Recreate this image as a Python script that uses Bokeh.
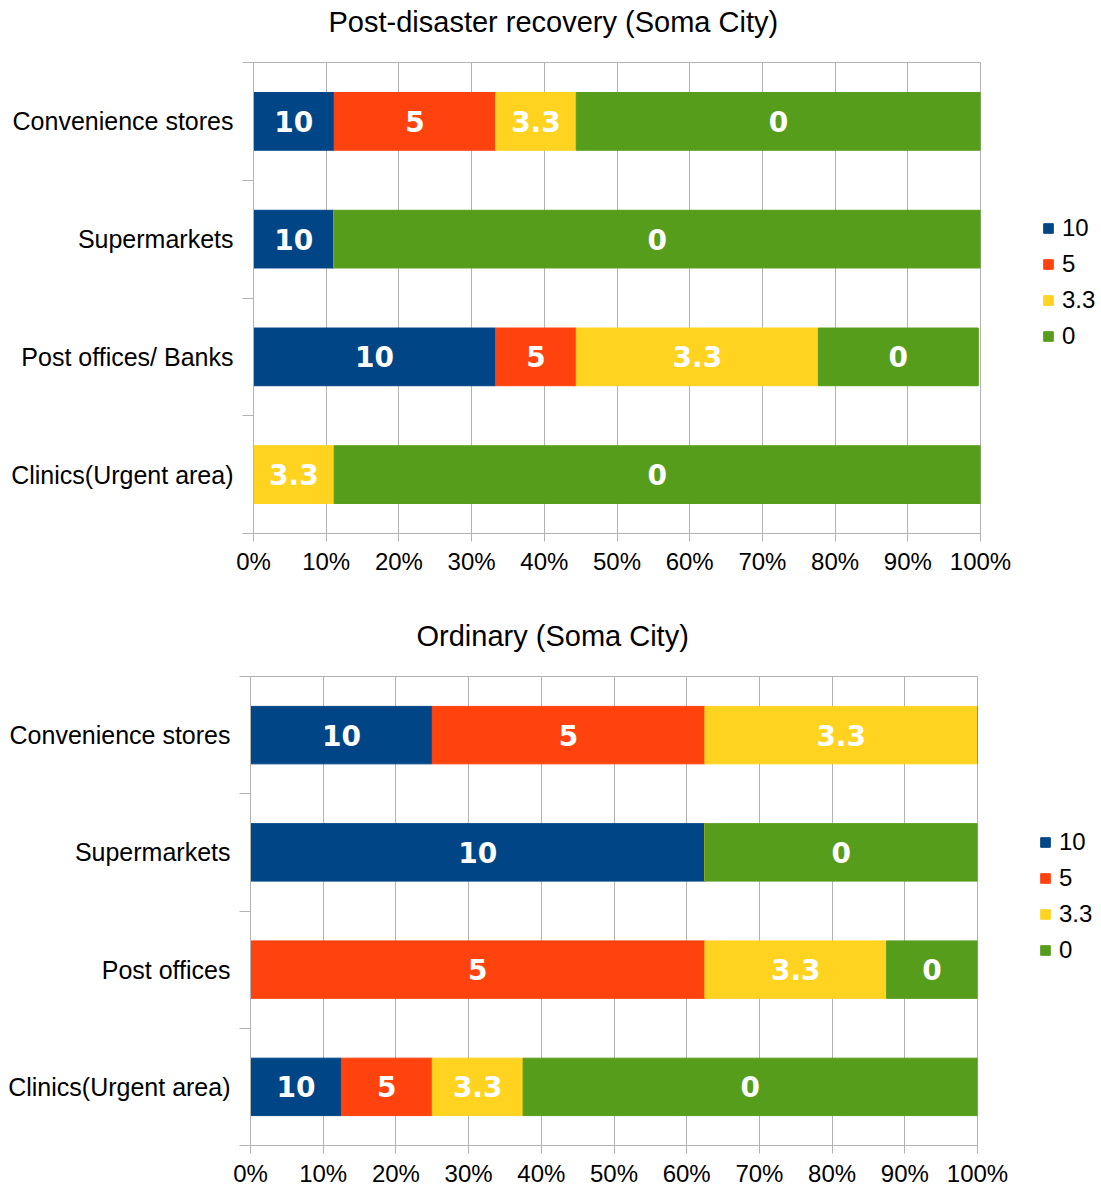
from bokeh.plotting import figure
from bokeh.models import (ColumnDataSource, FixedTicker, PrintfTickFormatter, Legend,
                          LegendItem, Range1d, Title)
from bokeh.layouts import column, row
from bokeh.embed import file_html
from bokeh.resources import INLINE
from bokeh.core.properties import value

# ---------------- data ----------------
series = ["10", "5", "3.3", "0"]
colors = ["#004586", "#ff420e", "#ffd320", "#579d1c"]
x_ticks = [0, 10, 20, 30, 40, 50, 60, 70, 80, 90, 100]

top_title = "Post-disaster recovery (Soma City)"
top_categories = ["Convenience stores", "Supermarkets", "Post offices/ Banks", "Clinics(Urgent area)"]
top_s10 = [11.1, 11.1, 33.3, 0]
top_s5 = [22.2, 0, 11.1, 0]
top_s33 = [11.1, 0, 33.3, 11.1]
top_s0 = [55.6, 88.9, 22.0, 88.9]

bot_title = "Ordinary (Soma City)"
bot_categories = ["Convenience stores", "Supermarkets", "Post offices", "Clinics(Urgent area)"]
bot_s10 = [25, 62.5, 0, 12.5]
bot_s5 = [37.5, 0, 62.5, 12.5]
bot_s33 = [37.5, 0, 25, 12.5]
bot_s0 = [0, 37.5, 12.5, 62.5]

GRID = "#b3b3b3"
FONT = "Liberation Sans"


def make_title(text, width, height, offset, standoff):
    tf = figure(width=width, height=height, output_backend="svg", toolbar_location=None,
                title=None, x_axis_type=None, y_axis_type=None, min_border=0,
                x_range=Range1d(0, 1), y_range=Range1d(0, 1),
                outline_line_color=None, background_fill_color="white",
                border_fill_color="white")
    tf.add_layout(Title(text=text, align="left", offset=offset, vertical_align="top",
                        standoff=standoff, text_font=FONT, text_font_size="29px",
                        text_font_style="normal", text_color="black"), "above")
    return tf


def make_chart(categories, vals, width, height, b_left, b_right, b_top, b_bottom):
    n = len(categories)
    ys = [n - i - 0.5 for i in range(n)]
    keys = ["s%d" % j for j in range(len(series))]
    data = {"y": ys}
    for k, v in zip(keys, vals):
        data[k] = v
    src = ColumnDataSource(data)

    p = figure(width=width, height=height, output_backend="svg", toolbar_location=None,
               title=None,
               x_range=Range1d(0, 100), y_range=Range1d(0, n),
               min_border_left=b_left, min_border_right=b_right,
               min_border_top=b_top, min_border_bottom=b_bottom,
               background_fill_color="white", border_fill_color="white")
    p.hbar_stack(keys, y="y", height=0.49, color=colors, source=src)

    # labels inside segments
    lx, ly, lt = [], [], []
    for i in range(n):
        left = 0
        for j, k in enumerate(keys):
            v = vals[j][i]
            if v > 0:
                lx.append(left + v / 2)
                ly.append(ys[i])
                lt.append(series[j])
            left += v
    p.text(x=lx, y=ly, text=lt, text_color="white", text_font=value("DejaVu Sans"),
           text_font_style="bold", text_font_size="28px", text_align="center",
           text_baseline="middle")

    # x axis
    xa = p.below[0]
    xa.ticker = FixedTicker(ticks=x_ticks, minor_ticks=[])
    xa.formatter = PrintfTickFormatter(format="%d%%")
    xa.axis_line_color = GRID
    xa.major_tick_line_color = GRID
    xa.major_tick_out = 8
    xa.major_tick_in = 0
    xa.major_label_standoff = 6
    xa.major_label_text_font = FONT
    xa.major_label_text_font_size = "24px"
    xa.major_label_text_color = "black"

    # y axis
    ya = p.left[0]
    ya.ticker = FixedTicker(ticks=ys, minor_ticks=list(range(n + 1)))
    ya.major_label_overrides = {y: c for y, c in zip(ys, categories)}
    ya.axis_line_color = GRID
    ya.major_tick_out = 0
    ya.major_tick_in = 0
    ya.major_tick_line_color = None
    ya.minor_tick_out = 11
    ya.minor_tick_in = 0
    ya.minor_tick_line_color = GRID
    ya.major_label_standoff = 9
    ya.major_label_text_font = FONT
    ya.major_label_text_font_size = "25px"
    ya.major_label_text_color = "black"

    p.xgrid.ticker = FixedTicker(ticks=x_ticks)
    p.xgrid.grid_line_color = GRID
    p.ygrid.grid_line_color = None
    p.outline_line_color = GRID
    return p


def make_legend(width, height, x, y_from_frame_bottom):
    lf = figure(width=width, height=height, output_backend="svg", toolbar_location=None,
                x_axis_type=None, y_axis_type=None, min_border=0,
                x_range=Range1d(0, 1), y_range=Range1d(0, 1),
                outline_line_color=None, background_fill_color="white",
                border_fill_color="white")
    nan = float("nan")
    rs = [lf.hbar(y=[nan], right=[nan], height=0.5, color=c) for c in colors]
    legend = Legend(items=[LegendItem(label=s, renderers=[r]) for s, r in zip(series, rs)],
                    location=(x, y_from_frame_bottom),
                    glyph_width=12, glyph_height=12, label_standoff=8, spacing=8,
                    padding=0, margin=0, border_line_color=None, background_fill_alpha=0,
                    label_text_font=FONT, label_text_font_size="24px", label_height=27,
                    label_text_color="black")
    lf.add_layout(legend, "center")
    return lf


t1 = make_title(top_title, 1101, 60, 328, 11)
p1 = make_chart(top_categories, [top_s10, top_s5, top_s33, top_s0],
                1015, 540, 253, 35, 2, 67)
l1 = make_legend(86, 540, 27, 183)

t2 = make_title(bot_title, 1101, 74, 416, 39)
p2 = make_chart(bot_categories, [bot_s10, bot_s5, bot_s33, bot_s0],
                1015, 515, 250, 38, 2, 42)
l2 = make_legend(86, 515, 24, 181)

layout = column(t1, row(p1, l1, spacing=0), t2, row(p2, l2, spacing=0), spacing=0)
open("out.html", "w").write(file_html(layout, INLINE))
